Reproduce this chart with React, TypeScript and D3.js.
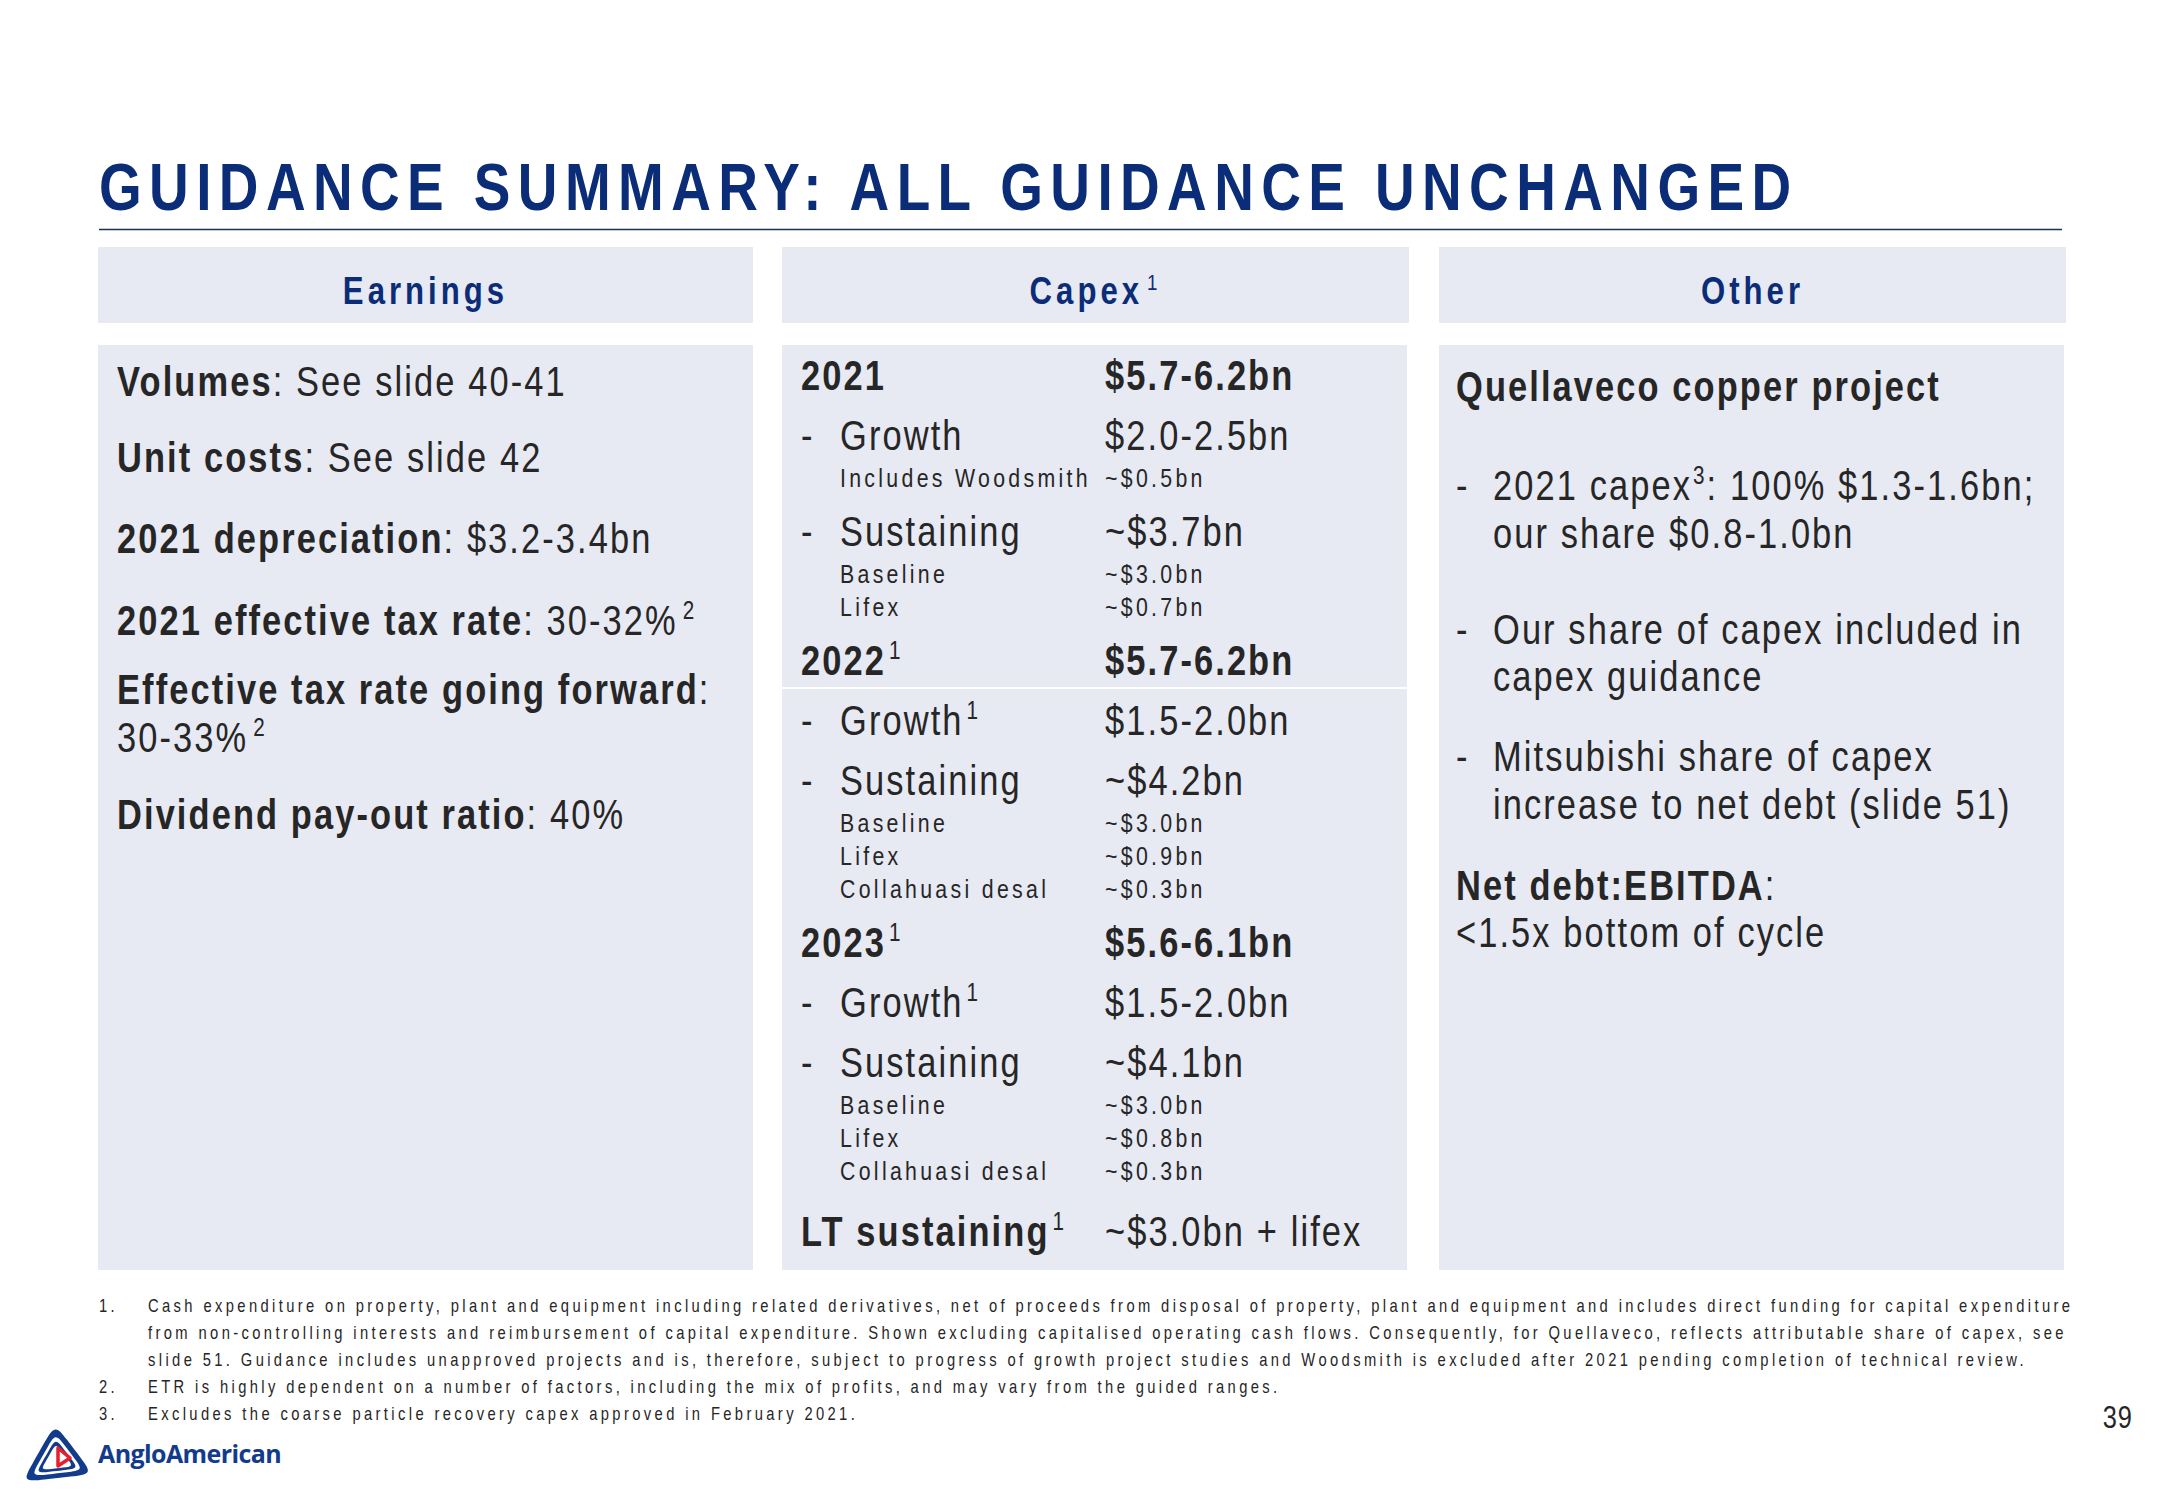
import React from "react";
import * as d3 from "d3";

// ---------- DATA ----------
const titleText = "GUIDANCE SUMMARY: ALL GUIDANCE UNCHANGED";
const columnHeaders = ["Earnings", "Capex^1", "Other"];

const earningsLines = [
  "**Volumes**: See slide 40-41",
  "**Unit costs**: See slide 42",
  "**2021 depreciation**: $3.2-3.4bn",
  "**2021 effective tax rate**: 30-32%^2",
  "**Effective tax rate going forward**:",
  "30-33%^2",
  "**Dividend pay-out ratio**: 40%",
];

const capexLabels = [
  "2021", "Growth", "Includes Woodsmith", "Sustaining", "Baseline", "Lifex",
  "2022^1", "Growth^1", "Sustaining", "Baseline", "Lifex", "Collahuasi desal",
  "2023^1", "Growth^1", "Sustaining", "Baseline", "Lifex", "Collahuasi desal",
  "LT sustaining^1",
];
const capexValues = [
  "$5.7-6.2bn", "$2.0-2.5bn", "~$0.5bn", "~$3.7bn", "~$3.0bn", "~$0.7bn",
  "$5.7-6.2bn", "$1.5-2.0bn", "~$4.2bn", "~$3.0bn", "~$0.9bn", "~$0.3bn",
  "$5.6-6.1bn", "$1.5-2.0bn", "~$4.1bn", "~$3.0bn", "~$0.8bn", "~$0.3bn",
  "~$3.0bn + lifex",
];
const capexKinds = [
  "year", "item", "sub", "item", "sub", "sub",
  "year", "item", "item", "sub", "sub", "sub",
  "year", "item", "item", "sub", "sub", "sub",
  "lt",
];

const otherLines = [
  "**Quellaveco copper project**",
  "2021 capex^3: 100% $1.3-1.6bn;",
  "our share $0.8-1.0bn",
  "Our share of capex included in",
  "capex guidance",
  "Mitsubishi share of capex",
  "increase to net debt (slide 51)",
  "**Net debt:EBITDA**:",
  "<1.5x bottom of cycle",
];
const otherStyles = ["head", "dash", "cont", "dash", "cont", "dash", "cont", "plain", "plain"];

const footnoteNumbers = ["1.", "", "", "2.", "3."];
const footnoteLines = [
  "Cash expenditure on property, plant and equipment including related derivatives, net of proceeds from disposal of property, plant and equipment and includes direct funding for capital expenditure",
  "from non-controlling interests and reimbursement of capital expenditure. Shown excluding capitalised operating cash flows. Consequently, for Quellaveco, reflects attributable share of capex, see",
  "slide 51. Guidance includes unapproved projects and is, therefore, subject to progress of growth project studies and Woodsmith is excluded after 2021 pending completion of technical review.",
  "ETR is highly dependent on a number of factors, including the mix of profits, and may vary from the guided ranges.",
  "Excludes the coarse particle recovery capex approved in February 2021.",
];
const pageNumber = "39";
const logoText = "AngloAmerican";

// ---------- STYLE ----------
const FONT = "'Liberation Sans', Arial, sans-serif";
const NX = 0.82; // horizontal condensing (Arial Narrow look)
const NAVY = "#0b2d78";
const LOGO_BLUE = "#133b8c";
const TEXT = "#262626";
const BOX = "#e7e9f3";

type Seg = { t: string; b: boolean; sup: boolean };
function parse(s: string, baseBold = false): Seg[] {
  const out: Seg[] = [];
  let bold = baseBold;
  const parts = s.split(/(\*\*|\^\d)/);
  for (const p of parts) {
    if (p === "") continue;
    if (p === "**") { bold = !bold; continue; }
    if (/^\^\d$/.test(p)) { out.push({ t: p.slice(1), b: false, sup: true }); continue; }
    out.push({ t: p, b: bold, sup: false });
  }
  return out;
}

// ls = on-screen letter spacing
function Rich({ x, y, s, size, ls, fill = TEXT, bold = false, anchor = "start", supGap = 3 }: any) {
  const segs = parse(s, bold);
  const supSize = size * 0.6;
  const rise = size * 0.38;
  let supOn = false;
  return (
    <g transform={`translate(${x},${y}) scale(${NX},1)`}>
      <text x={0} y={0} fontSize={size} letterSpacing={ls / NX} fill={fill} textAnchor={anchor} fontFamily={FONT}>
        {segs.map((g, i) => {
          let dy = 0;
          if (g.sup && !supOn) { dy = -rise; supOn = true; }
          else if (!g.sup && supOn) { dy = rise; supOn = false; }
          return (
            <tspan key={i} dy={dy || undefined} fontWeight={g.b ? 700 : 400} fontSize={g.sup ? supSize : size}
              dx={g.sup ? supGap / NX : undefined}>
              {g.t}
            </tspan>
          );
        })}
      </text>
    </g>
  );
}

// rounded triangle path around a centroid, scaled by k
function roundedTri(pts: [number, number][], k: number) {
  const cx = d3.mean(pts, (p) => p[0])!;
  const cy = d3.mean(pts, (p) => p[1])!;
  const sc = pts.map(([px, py]) => [cx + (px - cx) * k, cy + (py - cy) * k] as [number, number]);
  const ring: [number, number][] = [];
  for (let i = 0; i < 3; i++) {
    const a = sc[i], b = sc[(i + 1) % 3];
    ring.push(a);
    ring.push([a[0] + (b[0] - a[0]) * 0.3, a[1] + (b[1] - a[1]) * 0.3]);
    ring.push([a[0] + (b[0] - a[0]) * 0.7, a[1] + (b[1] - a[1]) * 0.7]);
  }
  return d3.line().curve(d3.curveBasisClosed)(ring) || "";
}

export default function App() {
  const W = 2166, H = 1500;

  const cols = [
    { x0: 98, x1: 753 },
    { x0: 782, x1: 1409 },
    { x0: 1439, x1: 2066 },
  ];

  const earnY = [396, 472, 553, 635, 704, 752, 829];

  const capexY: number[] = [];
  capexKinds.forEach((k, i) => {
    if (i === 0) { capexY.push(390); return; }
    const prev = capexKinds[i - 1];
    let gap = 60;
    if (k === "sub") gap = prev === "sub" ? 33 : 37;
    else if (k === "lt") gap = 66;
    else if (prev === "sub") gap = 59;
    capexY.push(capexY[i - 1] + gap);
  });

  const otherY = [401, 500, 548, 644, 691, 771, 819, 900, 947];
  const footY = d3.range(footnoteLines.length).map((i) => 1312 + i * 27);

  const BIG = 42, BIG_LS = 2.1;
  const SMALL = 26, SMALL_LS = 3.3;
  const FOOT = 18, FOOT_LS = 3.38;

  const logoPts: [number, number][] = [[55, 1424], [22, 1482], [93, 1474]];

  return (
    <svg width={W} height={H} style={{ position: "absolute", left: 0, top: 0, background: "#fff" }}>
      <rect width={W} height={H} fill="#fff" />
      {/* title */}
      <g transform={`translate(99,210) scale(${NX},1)`}>
        <text x={0} y={0} fontFamily={FONT} fontWeight={700} fontSize={67} letterSpacing={7.4 / NX} fill={NAVY}>
          {titleText}
        </text>
      </g>
      <line x1={99} x2={2062} y1={229.5} y2={229.5} stroke="#1d2f5a" strokeWidth={1.5} />

      {/* header boxes */}
      {cols.map((c, i) => (
        <g key={"h" + i}>
          <rect x={c.x0} y={247} width={c.x1 - c.x0} height={76} fill={BOX} />
          <Rich x={(c.x0 + c.x1) / 2} y={304} s={columnHeaders[i]} size={38} ls={4} fill={NAVY} bold anchor="middle" supGap={4} />
        </g>
      ))}

      {/* body boxes */}
      {cols.map((c, i) => (
        <rect key={"b" + i} x={c.x0} y={345} width={c.x1 - c.x0 - (i === 0 ? 0 : 2)} height={925} fill={BOX} />
      ))}
      <line x1={cols[1].x0} x2={cols[1].x1 - 2} y1={688} y2={688} stroke="#fff" strokeWidth={2} />

      {/* earnings */}
      {earningsLines.map((s, i) => (
        <Rich key={"e" + i} x={117} y={earnY[i]} s={s} size={BIG} ls={BIG_LS} supGap={5} />
      ))}

      {/* capex */}
      {capexLabels.map((lab, i) => {
        const k = capexKinds[i];
        const y = capexY[i];
        if (k === "year") {
          return (
            <g key={"c" + i}>
              <Rich x={801} y={y} s={lab} size={BIG} ls={BIG_LS} bold />
              <Rich x={1105} y={y} s={capexValues[i]} size={BIG} ls={BIG_LS} bold />
            </g>
          );
        }
        if (k === "item") {
          return (
            <g key={"c" + i}>
              <Rich x={801} y={y} s="-" size={BIG} ls={BIG_LS} />
              <Rich x={840} y={y} s={lab} size={BIG} ls={BIG_LS} />
              <Rich x={1105} y={y} s={capexValues[i]} size={BIG} ls={BIG_LS} />
            </g>
          );
        }
        if (k === "sub") {
          return (
            <g key={"c" + i}>
              <Rich x={840} y={y} s={lab} size={SMALL} ls={SMALL_LS} />
              <Rich x={1105} y={y} s={capexValues[i]} size={SMALL} ls={SMALL_LS} />
            </g>
          );
        }
        return (
          <g key={"c" + i}>
            <Rich x={801} y={y} s={lab} size={BIG} ls={BIG_LS} bold />
            <Rich x={1105} y={y} s={capexValues[i]} size={BIG} ls={BIG_LS} />
          </g>
        );
      })}

      {/* other */}
      {otherLines.map((s, i) => {
        const st = otherStyles[i];
        const y = otherY[i];
        return (
          <g key={"o" + i}>
            {st === "dash" && <Rich x={1456} y={y} s="-" size={BIG} ls={BIG_LS} />}
            <Rich x={st === "dash" || st === "cont" ? 1493 : 1456} y={y} s={s} size={BIG} ls={BIG_LS} supGap={1} />
          </g>
        );
      })}

      {/* footnotes */}
      {footnoteLines.map((s, i) => (
        <g key={"f" + i}>
          {footnoteNumbers[i] && <Rich x={99} y={footY[i]} s={footnoteNumbers[i]} size={FOOT} ls={FOOT_LS} />}
          <Rich x={148} y={footY[i]} s={s} size={FOOT} ls={FOOT_LS} />
        </g>
      ))}

      {/* page number */}
      <Rich x={2133} y={1428} s={pageNumber} size={31} ls={1} anchor="end" />

      {/* logo */}
      <g>
        <path d={roundedTri(logoPts, 1)} fill={LOGO_BLUE} />
        <path d={roundedTri(logoPts, 0.74)} fill="#fff" />
        <path d={roundedTri(logoPts, 0.6)} fill={LOGO_BLUE} />
        <path d={roundedTri(logoPts, 0.46)} fill="#fff" />
        <path d="M58,1448 L58,1466 L70,1458 Z" fill="#fff" stroke="#e3202b" strokeWidth={3.5} strokeLinejoin="round" />
      </g>
      <text x={98} y={1463} fontFamily="'Open Sans', Lato, sans-serif" fontWeight={700} fontSize={25} letterSpacing={-0.6} fill={LOGO_BLUE}>
        {logoText}
      </text>
    </svg>
  );
}
